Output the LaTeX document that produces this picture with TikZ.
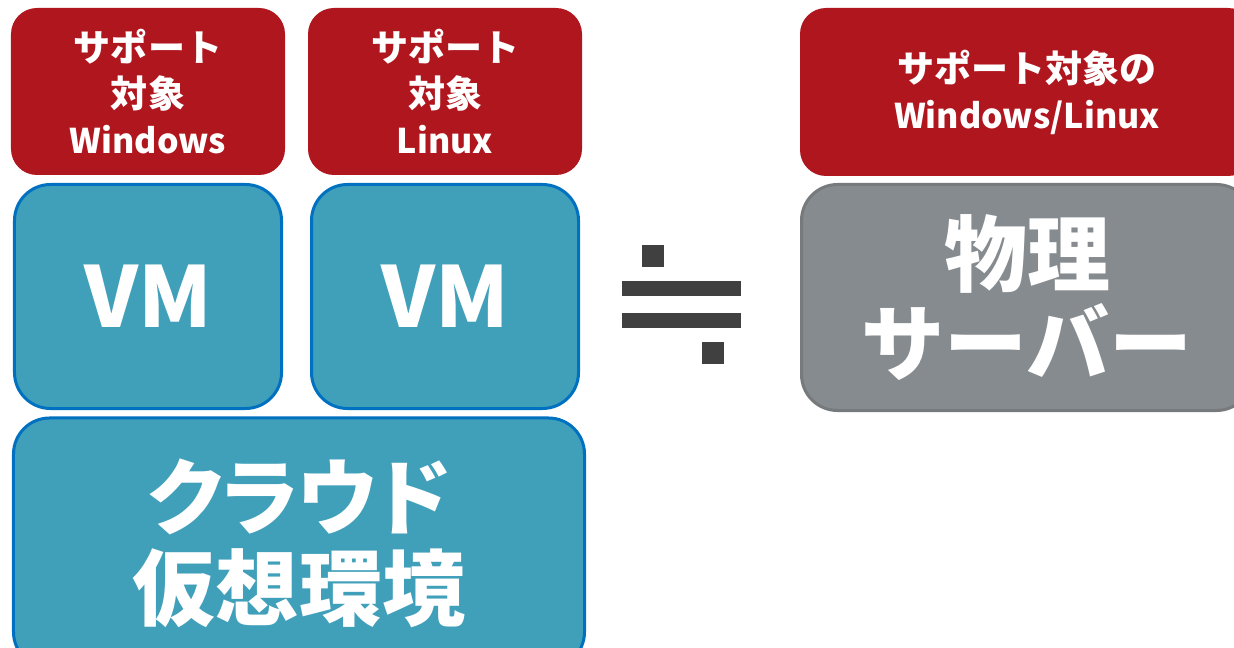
\documentclass[tikz,border=0pt]{standalone}
\usepackage{fontspec}
\setmainfont{Noto Sans CJK JP}
\newfontfamily\jpprop{Noto Sans CJK JP}[RawFeature=+palt]
\newcommand{\latinsize}{\fontsize{34bp}{46bp}\selectfont}
\definecolor{supred}{RGB}{176,22,30}
\definecolor{vmfill}{RGB}{64,160,186}
\definecolor{vmline}{RGB}{0,112,192}
\definecolor{srvfill}{RGB}{133,139,142}
\definecolor{srvline}{RGB}{118,122,124}
\definecolor{symgray}{RGB}{64,64,64}
\tikzset{
  redbox/.style={fill=supred, draw=none, rounded corners=26bp, text=white, align=center,
    font=\bfseries\fontsize{37bp}{46bp}\selectfont},
  vmbox/.style={fill=vmfill, draw=vmline, line width=3bp, rounded corners=36bp, text=white, align=center,
    font=\bfseries\fontsize{83bp}{91bp}\selectfont},
  srvbox/.style={fill=srvfill, draw=srvline, line width=3bp, rounded corners=36bp, text=white, align=center,
    font=\bfseries\fontsize{83bp}{89bp}\selectfont},
  symbar/.style={fill=symgray, draw=none, inner sep=0pt},
}
\begin{document}
\begin{tikzpicture}[x=1bp,y=-1bp]
\useasboundingbox (0,0) rectangle (1234,648);
\clip (0,0) rectangle (1234,648);
% red headers
\node[redbox, minimum width=274bp, minimum height=167bp] (r1) at (148,91.5) {サポート\\対象\\{\latinsize Windows}};
\node[redbox, minimum width=274bp, minimum height=167bp] (r2) at (445,91.5) {サポート\\対象\\{\latinsize Linux}};
\node[redbox, minimum width=454bp, minimum height=168bp] (r3) at (1027,92) {サポート対象の\\{\latinsize Windows/Linux}};
% VM boxes
\node[vmbox, minimum width=267bp, minimum height=224bp, font=\bfseries\fontsize{84bp}{90bp}\selectfont] (vm1) at (148,296.5) {VM};
\node[vmbox, minimum width=267bp, minimum height=224bp, font=\bfseries\fontsize{84bp}{90bp}\selectfont] (vm2) at (445,296.5) {VM};
% cloud
\node[vmbox, minimum width=571bp, minimum height=250bp] (cloud) at (299,543) {{\jpprop\bfseries クラウド}\\仮想環境};
% physical server
\node[srvbox, minimum width=451bp, minimum height=226bp] (srv) at (1027,297.5) {物理\\サーバー};
% approx-equal symbol
\node[symbar, minimum width=22bp, minimum height=22bp] (dot1) at (653,256) {};
\node[symbar, minimum width=119bp, minimum height=15bp] (bar1) at (681.5,288.5) {};
\node[symbar, minimum width=119bp, minimum height=15bp] (bar2) at (681.5,320.5) {};
\node[symbar, minimum width=22bp, minimum height=22bp] (dot2) at (713,353) {};
\end{tikzpicture}
\end{document}
